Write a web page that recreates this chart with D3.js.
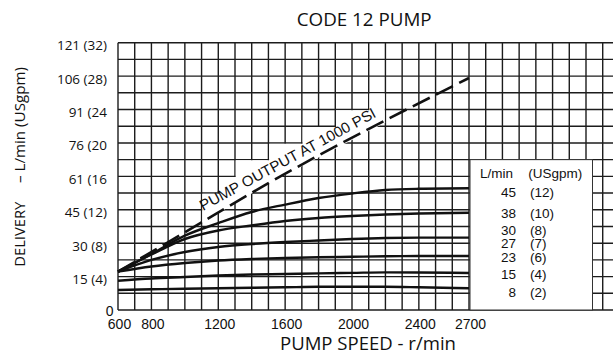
<!DOCTYPE html>
<html><head><meta charset="utf-8">
<script src="https://cdn.jsdelivr.net/npm/d3@7"></script>
<style>html,body{margin:0;padding:0;background:#fff;} svg{display:block;}</style>
</head><body><svg id="c" width="613" height="355"></svg>
<script>
// ---------- data ----------
const speedRpm = [600, 800, 1000, 1200, 1400, 1600, 1800, 2000, 2200, 2400, 2700];
// delivery in USgpm for each valve setting curve
const flow45 = [4.59, 6.70, 8.90, 10.40, 11.73, 12.62, 13.41, 13.95, 14.37, 14.51, 14.57];
const flow38 = [4.59, 6.64, 8.50, 9.52, 10.12, 10.65, 11.01, 11.25, 11.43, 11.55, 11.65];
const flow30 = [4.59, 5.99, 6.94, 7.54, 7.90, 8.14, 8.32, 8.50, 8.62, 8.66, 8.66];
const flow27 = [4.59, 5.21, 5.63, 5.93, 6.11, 6.23, 6.31, 6.37, 6.43, 6.46, 6.46];
const flow15 = [3.51, 3.77, 3.95, 4.13, 4.25, 4.31, 4.39, 4.45, 4.51, 4.49, 4.43];
const flow8  = [2.39, 2.48, 2.54, 2.60, 2.66, 2.72, 2.78, 2.79, 2.78, 2.72, 2.60];
const outputRpm = [600, 1000, 1500, 2700];
const outputGpm = [4.59, 9.30, 15.18, 27.77];

const xTickValues = [600, 800, 1200, 1600, 2000, 2400, 2700];
const yTickValues = [4, 8, 12, 16, 20, 24, 28, 32];
const yTickLabels = ["15 (4)", "30 (8)", "45 (12)", "61 (16", "76 (20", "91 (24", "106 (28)", "121 (32)"];
const legendLpm = ["45", "38", "30", "27", "23", "15", "8"];
const legendGpm = ["(12)", "(10)", "(8)", "(7)", "(6)", "(4)", "(2)"];

// ---------- layout ----------
const legendRowY = [191.7, 213, 230, 243.3, 257.3, 274, 291.7];
const maskStair = [[1100,14],[1200,14],[1200,16],[1300,16],[1300,18],[1500,18],[1500,20],
                   [1700,20],[1700,22],[1900,22],[1900,24],[2100,24],[2100,26],[2200,26]];

const svg = d3.select("#c");
const x = d3.scaleLinear().domain([600, 2700]).range([118, 469]);
const y = d3.scaleLinear().domain([0, 32]).range([310, 42.7]);
const gridColor = "#1c1c1c";
const sans = "'Open Sans', 'Noto Sans', sans-serif";
const helv = "'Liberation Sans', Arial, sans-serif";

// grid
const g = svg.append("g");
g.selectAll("line.v").data(d3.range(600, 3800, 100)).join("line")
  .attr("x1", d => x(d)).attr("x2", d => x(d))
  .attr("y1", y(0)).attr("y2", y(32))
  .attr("stroke", gridColor).attr("stroke-width", 1.4);
g.selectAll("line.h").data(d3.range(0, 33, 2)).join("line")
  .attr("x1", x(600)).attr("x2", 613)
  .attr("y1", d => y(d)).attr("y2", d => y(d))
  .attr("stroke", gridColor).attr("stroke-width", 1.4);

// white mask behind the rotated label
const outInterp = d3.scaleLinear().domain(outputRpm).range(outputGpm);
const lastR = maskStair[maskStair.length - 1][0];
const pts = [];
pts.push([x(1100) + 0.7, y(outInterp(1100))]);
maskStair.forEach(([r, v]) => pts.push([x(r) + (r === lastR ? -0.7 : 0.7), y(v) + 0.7]));
pts.push([x(lastR) - 0.7, y(outInterp(lastR))]);
for (let r = lastR; r >= 1100; r -= 50) pts.push([x(r), y(outInterp(r)) + 0.5]);
svg.append("polygon").attr("points", pts.map(p => p.join(",")).join(" ")).attr("fill", "#fff");

// curves
const line = d3.line().x((d, i) => x(speedRpm[i])).y(d => y(d)).curve(d3.curveMonotoneX);
[flow45, flow38, flow30, flow27, flow15, flow8].forEach(s => {
  svg.append("path").attr("d", line(s)).attr("fill", "none")
    .attr("stroke", "#111").attr("stroke-width", 2.4);
});
const dline = d3.line().x((d, i) => x(outputRpm[i])).y(d => y(d)).curve(d3.curveMonotoneX);
svg.append("path").attr("d", dline(outputGpm)).attr("fill", "none")
  .attr("stroke", "#111").attr("stroke-width", 2.6).attr("stroke-dasharray", "19,7");

svg.append("text").attr("transform", "translate(203,211) rotate(-28.5)")
  .attr("font-family", helv).attr("font-size", 15).attr("fill", "#111")
  .attr("textLength", 198).attr("lengthAdjust", "spacingAndGlyphs")
  .text("PUMP OUTPUT AT 1000 PSI");

// legend box
svg.append("rect").attr("x", 470).attr("y", y(18)).attr("width", 122.5).attr("height", y(0) - y(18))
  .attr("fill", "#fff").attr("stroke", "#333").attr("stroke-width", 1);
svg.append("text").attr("x", 480).attr("y", 178).attr("font-family", helv).attr("font-size", 13.5)
  .attr("fill", "#111").text("L/min");
svg.append("text").attr("x", 528.3).attr("y", 178).attr("font-family", helv).attr("font-size", 13.5)
  .attr("fill", "#111").text("(USgpm)");
legendLpm.forEach((t, i) => {
  svg.append("text").attr("x", 516).attr("y", legendRowY[i] + 4.8).attr("text-anchor", "end")
    .attr("font-family", helv).attr("font-size", 13.5).attr("fill", "#111").text(t);
  svg.append("text").attr("x", 530).attr("y", legendRowY[i] + 4.8)
    .attr("font-family", helv).attr("font-size", 13.5).attr("fill", "#111").text(legendGpm[i]);
});

// y tick labels
yTickValues.forEach((v, i) => {
  svg.append("text").attr("x", 107).attr("y", y(v) + 7.5).attr("text-anchor", "end")
    .attr("font-family", sans).attr("font-size", 13.5).attr("fill", "#111").text(yTickLabels[i]);
});
svg.append("text").attr("x", 109.7).attr("y", 316).attr("text-anchor", "middle")
  .attr("font-family", helv).attr("font-size", 14).attr("fill", "#111").text("0");

// x tick labels
xTickValues.forEach(v => {
  svg.append("text").attr("x", x(v) + 1.5).attr("y", 329.3).attr("text-anchor", "middle")
    .attr("font-family", helv).attr("font-size", 14).attr("fill", "#111").text(v);
});

// titles
svg.append("text").attr("x", 296.7).attr("y", 26).attr("font-family", sans).attr("font-size", 19)
  .attr("textLength", 135).attr("lengthAdjust", "spacingAndGlyphs").attr("fill", "#111").text("CODE 12 PUMP");
svg.append("text").attr("x", 280).attr("y", 350).attr("font-family", sans).attr("font-size", 19)
  .attr("textLength", 176).attr("lengthAdjust", "spacingAndGlyphs").attr("fill", "#111").text("PUMP SPEED - r/min");
svg.append("text").attr("transform", "translate(25,266.7) rotate(-90)").attr("font-family", sans)
  .attr("font-size", 15).attr("textLength", 65).attr("lengthAdjust", "spacingAndGlyphs")
  .attr("fill", "#111").text("DELIVERY");
svg.append("text").attr("transform", "translate(25,183) rotate(-90)").attr("font-family", sans)
  .attr("font-size", 15).attr("textLength", 116).attr("lengthAdjust", "spacingAndGlyphs")
  .attr("fill", "#111").text("– L/min (USgpm)");
</script></body></html>
